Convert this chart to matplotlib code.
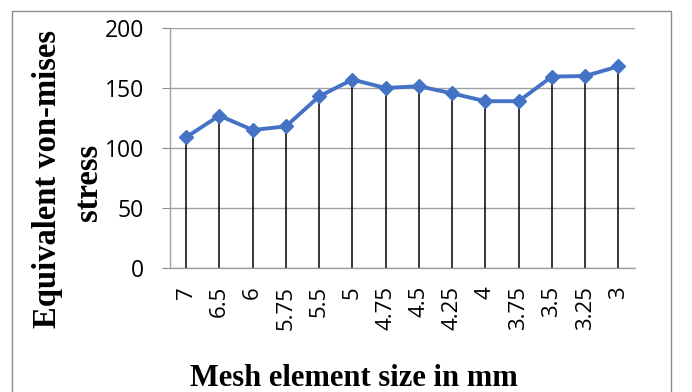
import numpy as np
import matplotlib.pyplot as plt
from matplotlib.patches import Rectangle

# mesh sizes (categories) and equivalent von-mises stress
mesh_sizes = ["7", "6.5", "6", "5.75", "5.5", "5", "4.75", "4.5",
              "4.25", "4", "3.75", "3.5", "3.25", "3"]
stress = [109, 127, 115, 118, 143, 157, 150, 151.5, 145.5, 139, 139, 159.5, 160, 168]
y_ticks = [0, 50, 100, 150, 200]

W, H = 692, 392
fig = plt.figure(figsize=(W / 100, H / 100), dpi=100)

# outer chart border (bottom edge runs off the picture)
fig.patches.append(Rectangle((12 / W, -0.1), (671 - 12) / W, 1.1 - 11 / H,
                             transform=fig.transFigure, fill=False,
                             edgecolor="#8c8c8c", linewidth=1.0))

ax = fig.add_axes([169.5 / W, 1 - 268 / H, (635 - 169.5) / W, (268 - 28) / H])

x = np.arange(len(mesh_sizes))
ax.vlines(x, 0, stress, color="black", linewidth=1.1, zorder=2)
ax.plot(x, stress, color="#4472C4", linewidth=2.8, marker="D",
        markersize=7, zorder=3)

ax.set_xlim(-0.5, len(mesh_sizes) - 0.5)
ax.set_ylim(0, 200)
ax.set_yticks(y_ticks)
ax.set_xticks(x)
ax.set_xticklabels(mesh_sizes, rotation=90, fontfamily="Open Sans", fontsize=16)
ax.tick_params(axis="x", length=0, pad=13)
ax.tick_params(axis="y", length=5.5, color="#8c8c8c", pad=13, labelsize=16.5)
for lab in ax.get_yticklabels():
    lab.set_fontfamily("Open Sans")

ax.grid(axis="y", color="#a0a0a0", linewidth=1.0)
ax.set_axisbelow(True)
for s in ["top", "right"]:
    ax.spines[s].set_visible(False)
for s in ["left", "bottom"]:
    ax.spines[s].set_color("#a0a0a0")
    ax.spines[s].set_linewidth(1.0)

fig.text(48 / W, 1 - 179 / H, "Equivalent von-mises", rotation=90,
         ha="center", va="center", fontfamily="Liberation Serif",
         fontweight="bold", fontsize=23.5)
fig.text(88 / W, 1 - 182 / H, "stress", rotation=90,
         ha="center", va="center", fontfamily="Liberation Serif",
         fontweight="bold", fontsize=23.5)
fig.text(354 / W, 1 - 386 / H, "Mesh element size in mm", ha="center",
         va="baseline", fontfamily="Liberation Serif", fontweight="bold",
         fontsize=22)

fig.savefig("out.png", dpi=100)
